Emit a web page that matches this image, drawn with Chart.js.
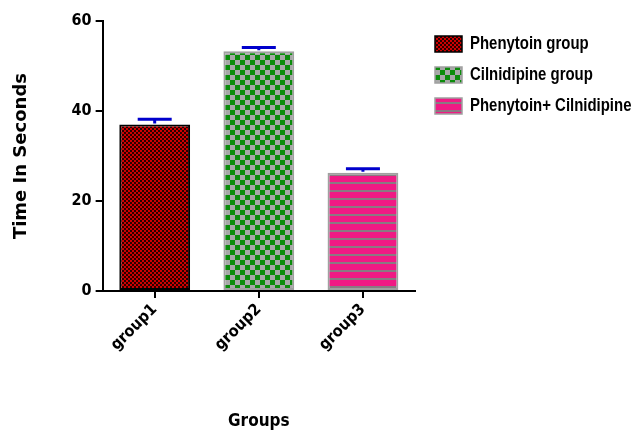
<!DOCTYPE html>
<html>
<head>
<meta charset="utf-8">
<script src="https://cdn.jsdelivr.net/npm/chart.js@4/dist/chart.umd.min.js"></script>
<style>
  html, body { margin: 0; padding: 0; background: #fff; }
  #wrap { width: 633px; height: 432px; position: relative; }
</style>
</head>
<body>
<div id="wrap"><canvas id="c" width="633" height="432"></canvas></div>
<script>
// Mean time per group and its upper error (SEM)
const groups = ['group1', 'group2', 'group3'];
const seriesNames = ['Phenytoin group', 'Cilnidipine group', 'Phenytoin+ Cilnidipine'];
const meanTime = [37.0, 53.3, 26.3];
const errTime = [1.2, 0.8, 0.9];
const yTicks = [0, 20, 40, 60];

const NARROW = '"Liberation Sans Narrow", "DejaVu Sans Condensed", "Liberation Sans", sans-serif';
const SANS = '"Liberation Sans", Arial, sans-serif';
const WIDE = '"DejaVu Sans", Verdana, sans-serif';

function makePattern(w, h, paint) {
  const c = document.createElement('canvas');
  c.width = w; c.height = h;
  const g = c.getContext('2d');
  paint(g);
  return document.getElementById('c').getContext('2d').createPattern(c, 'repeat');
}

// fine red/black weave
const redWeave = makePattern(4, 4, g => {
  g.fillStyle = '#d00000'; g.fillRect(0, 0, 4, 4);
  g.fillStyle = '#2a0000'; g.fillRect(0, 0, 2, 2); g.fillRect(2, 2, 2, 2);
});
// green checker on grey
const greenChecker = makePattern(10, 10, g => {
  g.fillStyle = '#a8a8a8'; g.fillRect(0, 0, 10, 10);
  g.fillStyle = '#0c8c0c'; g.fillRect(0, 0, 5, 5); g.fillRect(5, 5, 5, 5);
});
// pink with grey horizontal stripes
const pinkStripes = makePattern(8, 8, g => {
  g.fillStyle = '#f01a84'; g.fillRect(0, 0, 8, 8);
  g.fillStyle = '#8a7a82'; g.fillRect(0, 6, 8, 2);
});

const fills = [redWeave, greenChecker, pinkStripes];
const borders = ['#000000', '#a0a0a0', '#a0a0a0'];

const errorBars = {
  id: 'errorBars',
  afterDatasetsDraw(chart) {
    const meta = chart.getDatasetMeta(0);
    const y = chart.scales.y;
    const ctx = chart.ctx;
    ctx.save();
    ctx.strokeStyle = '#0000cc';
    ctx.lineWidth = 3;
    meta.data.forEach((bar, i) => {
      const top = y.getPixelForValue(meanTime[i] + errTime[i]);
      const base = y.getPixelForValue(meanTime[i]);
      ctx.beginPath();
      ctx.moveTo(bar.x, base - 1);
      ctx.lineTo(bar.x, top);
      ctx.moveTo(bar.x - 17, top);
      ctx.lineTo(bar.x + 17, top);
      ctx.stroke();
    });
    ctx.restore();
  }
};

// legend block to the right of the plot area, condensed bold text
const sideLegend = {
  id: 'sideLegend',
  afterDraw(chart) {
    const ctx = chart.ctx;
    const area = chart.chartArea;
    const x0 = area.right + 20;
    let y0 = area.top + 15;
    ctx.save();
    ctx.textBaseline = 'middle';
    ctx.textAlign = 'left';
    seriesNames.forEach((name, i) => {
      ctx.fillStyle = fills[i];
      ctx.fillRect(x0, y0, 27, 16);
      ctx.strokeStyle = borders[i];
      ctx.lineWidth = 1.5;
      ctx.strokeRect(x0, y0, 27, 16);
      ctx.save();
      ctx.translate(x0 + 35, y0 + 8);
      ctx.scale(0.83, 1);
      ctx.font = 'bold 18px ' + SANS;
      ctx.fillStyle = '#000';
      ctx.fillText(name, 0, 0);
      ctx.restore();
      y0 += 31;
    });
    ctx.restore();
  }
};

new Chart(document.getElementById('c'), {
  type: 'bar',
  data: {
    labels: groups,
    datasets: [{
      data: meanTime,
      backgroundColor: fills,
      borderColor: borders,
      borderWidth: 2,
      borderSkipped: false,
      barPercentage: 0.68,
      categoryPercentage: 1.0
    }]
  },
  options: {
    responsive: false,
    animation: false,
    layout: { padding: { left: 11, top: 21, right: 218, bottom: 0 } },
    plugins: {
      tooltip: { enabled: false },
      legend: { display: false }
    },
    scales: {
      x: {
        offset: true,
        grid: { display: true, drawOnChartArea: false, offset: false, color: '#000', lineWidth: 2, tickLength: 7 },
        border: { color: '#000', width: 2 },
        ticks: {
          color: '#000', maxRotation: 45, minRotation: 45, padding: 2,
          font: { family: NARROW, size: 16, weight: 'bold' }
        },
        title: {
          display: true, text: 'Groups', color: '#000',
          font: { family: NARROW, size: 17, weight: 'bold' },
          padding: { top: 55, bottom: 0 }
        }
      },
      y: {
        min: 0, max: 60,
        afterBuildTicks: axis => { axis.ticks = yTicks.map(v => ({ value: v })); },
        grid: { display: true, drawOnChartArea: false, color: '#000', lineWidth: 2, tickLength: 7 },
        border: { color: '#000', width: 2 },
        ticks: {
          color: '#000', padding: 4,
          font: { family: NARROW, size: 16, weight: 'bold' }
        },
        title: {
          display: true, text: 'Time In Seconds', color: '#000',
          font: { family: WIDE, size: 18, weight: 'bold' },
          padding: { top: 0, bottom: 35 }
        }
      }
    }
  },
  plugins: [errorBars, sideLegend]
});
</script>
</body>
</html>
